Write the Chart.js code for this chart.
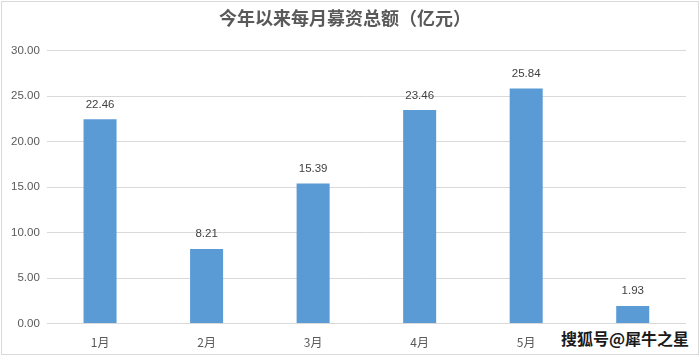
<!DOCTYPE html>
<html>
<head>
<meta charset="utf-8">
<script src="https://cdn.jsdelivr.net/npm/chart.js@4"></script>
<style>
  html, body { margin: 0; padding: 0; background: #fff; }
  #wrap { position: relative; width: 700px; height: 356px; }
  #mark {
    position: absolute; left: 560px; top: 326px; line-height: 20px;
    padding: 0 1px; background: #fff;
    font: bold 16px "Noto Sans CJK SC", sans-serif; color: #1a1a1a;
  }
</style>
</head>
<body>
<div id="wrap">
  <canvas id="myChart" width="700" height="356"></canvas>
  <div id="mark">搜狐号@犀牛之星</div>
</div>
<script>
const months = ['1月', '2月', '3月', '4月', '5月', '6月'];
const amounts = [22.46, 8.21, 15.39, 23.46, 25.84, 1.93];
const yTicks = [0, 5, 10, 15, 20, 25, 30];

const numFont = '"Liberation Sans", Arial, sans-serif';

// values above each bar
const valueLabels = {
  id: 'valueLabels',
  afterDatasetsDraw(chart) {
    const ctx = chart.ctx;
    const meta = chart.getDatasetMeta(0);
    ctx.save();
    ctx.font = '11.5px ' + numFont;
    ctx.fillStyle = '#404040';
    ctx.textAlign = 'center';
    ctx.textBaseline = 'bottom';
    meta.data.forEach((bar, i) => {
      ctx.fillText(amounts[i].toFixed(2), bar.x, bar.y - 9);
    });
    ctx.restore();
  }
};

// light frame round the whole picture
const frame = {
  id: 'frame',
  afterDraw(chart) {
    const ctx = chart.ctx;
    ctx.save();
    ctx.strokeStyle = '#d9d9d9';
    ctx.lineWidth = 1;
    ctx.strokeRect(1.5, 1.5, chart.width - 3, chart.height - 3);
    ctx.restore();
  }
};

const ctx = document.getElementById('myChart').getContext('2d');
const myChart = new Chart(ctx, {
  type: 'bar',
  data: {
    labels: months,
    datasets: [{
      label: '募资总额',
      data: amounts,
      backgroundColor: '#5b9bd5',
      categoryPercentage: 1,
      barPercentage: 0.31
    }]
  },
  options: {
    responsive: false,
    animation: false,
    layout: { padding: { left: 4, right: 14, top: 0, bottom: 2 } },
    plugins: {
      legend: { display: false },
      tooltip: { enabled: false },
      title: {
        display: true,
        text: '今年以来每月募资总额（亿元）',
        color: '#595959',
        font: { family: '"Noto Sans CJK SC", sans-serif', size: 18, weight: 'bold' },
        padding: { top: 7, bottom: 22 }
      }
    },
    scales: {
      x: {
        grid: { display: false },
        border: { display: false },
        ticks: {
          color: '#595959',
          font: { family: '"Noto Sans CJK SC", sans-serif', size: 12 },
          padding: 4
        }
      },
      y: {
        min: 0,
        max: 30,
        afterBuildTicks(axis) { axis.ticks = yTicks.map(v => ({ value: v })); },
        grid: { color: '#d9d9d9', drawTicks: false },
        border: { display: false },
        ticks: {
          color: '#595959',
          font: { family: numFont, size: 11.5 },
          padding: 7,
          callback: v => Number(v).toFixed(2)
        }
      }
    }
  },
  plugins: [valueLabels, frame]
});
</script>
</body>
</html>
